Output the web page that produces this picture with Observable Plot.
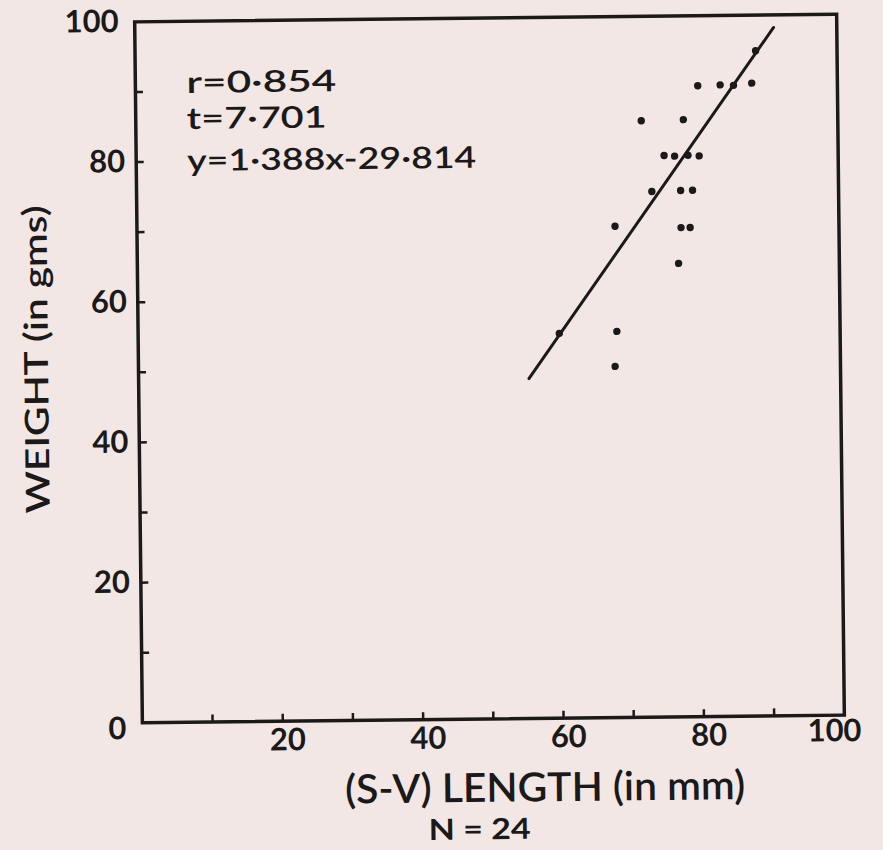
<!DOCTYPE html>
<html>
<head>
<meta charset="utf-8">
<script src="https://cdn.jsdelivr.net/npm/d3@7"></script>
<script src="https://cdn.jsdelivr.net/npm/@observablehq/plot@0.6"></script>
<style>
  html, body { margin: 0; padding: 0; background: #f2e7e4; }
  #chart svg { display: block; transform: rotate(-0.63deg); transform-origin: 489px 368px; }
</style>
</head>
<body>
<div id="chart"></div>
<script>
// S-V length (mm) and weight (g)
const lengthMm = [88.4, 80.1, 83.3, 85.2, 87.8, 72.0, 78.0, 75.2, 76.7, 78.6, 80.2,
                  73.4, 77.5, 79.2, 68.1, 77.5, 78.8, 77.1, 68.2, 67.9, 60.0];
const weightG  = [94.9, 90.0, 90.1, 90.0, 90.3, 85.1, 85.2, 80.1, 80.0, 80.1, 80.0,
                  75.0, 75.1, 75.1, 70.1, 69.8, 69.8, 64.7, 55.1, 50.1, 54.9];
// regression line endpoints as drawn
const fitX = [55.6, 91.0];
const fitY = [48.5, 98.2];
// axis ticks / labels
const minorTicks = [10, 20, 30, 40, 50, 60, 70, 80, 90];
const yLabels = [0, 20, 40, 60, 80, 100];
const xLabels = [20, 40, 60, 80, 100];
const statLines = ["r=0·854", "t=7·701", "y=1·388x-29·814"];
const xTitle = "(S-V) LENGTH (in mm)";
const yTitle = "WEIGHT (in gms)";
const nNote = "N = 24";

const ink = "#1b1919";
const points = lengthMm.map((x, i) => ({x, y: weightG[i]}));
const fit = fitX.map((x, i) => ({x, y: fitY[i]}));
const font = "Lato, 'Open Sans', sans-serif";
const statOffsets = [62, 98, 140];
const tickFont = {fontSize: 31, fontWeight: "bold", fill: ink, tickSize: 0, label: null};

const chart = Plot.plot({
  width: 883,
  height: 850,
  marginLeft: 138,
  marginRight: 43,
  marginTop: 17.5,
  marginBottom: 131.5,
  x: {domain: [0, 100]},
  y: {domain: [0, 100]},
  style: {background: "transparent", fontFamily: font, color: ink},
  marks: [
    Plot.frame({stroke: ink, strokeWidth: 3.5}),
    Plot.tickY(minorTicks, {y: d => d, stroke: ink, strokeWidth: 2.5, insetRight: 694}),
    Plot.tickX(minorTicks, {x: d => d, stroke: ink, strokeWidth: 2.5, insetTop: 694}),
    Plot.axisY({...tickFont, ticks: [yLabels[0]], tickPadding: 12, dx: -4, dy: 6}),
    Plot.axisY({...tickFont, ticks: yLabels.slice(1, -1), tickPadding: 11}),
    Plot.axisY({...tickFont, ticks: yLabels.slice(-1), tickPadding: 16}),
    Plot.axisX({...tickFont, ticks: xLabels.slice(0, -1), tickPadding: 7, dx: 5}),
    Plot.axisX({...tickFont, ticks: xLabels.slice(-1), tickPadding: 4, dx: -10}),
    Plot.line(fit, {x: "x", y: "y", stroke: ink, strokeWidth: 3}),
    Plot.dot(points, {x: "x", y: "y", r: 3.7, fill: ink, stroke: "none"}),
    ...statLines.map((s, i) => Plot.text([s], {
      text: d => d, frameAnchor: "top-left", textAnchor: "start", lineAnchor: "middle",
      dx: 51, dy: statOffsets[i], fontSize: 30, fontWeight: 600, fill: ink
    })),
    Plot.text([yTitle], {text: d => d, frameAnchor: "left", rotate: -90, textAnchor: "middle", lineAnchor: "middle", dx: -101, dy: -14, fontSize: 33, fontWeight: 600, fill: ink}),
    Plot.text([xTitle], {text: d => d, frameAnchor: "bottom", textAnchor: "middle", lineAnchor: "middle", dx: 51, dy: 70, fontSize: 40, fontWeight: 600, fill: ink}),
    Plot.text([nNote], {text: d => d, frameAnchor: "bottom", textAnchor: "middle", lineAnchor: "middle", dx: -15, dy: 111, fontSize: 29, fontWeight: "bold", fill: ink})
  ]
});

// match hand-lettered text widths
const widths = new Map([
  [statLines[0], 150], [statLines[1], 140], [statLines[2], 289],
  [xTitle, 400], [yTitle, 308], [nNote, 102]
]);
d3.select(chart).selectAll("text").each(function () {
  const w = widths.get(this.textContent);
  if (w) d3.select(this).attr("textLength", w).attr("lengthAdjust", "spacingAndGlyphs");
});
document.getElementById("chart").appendChild(chart);
</script>
</body>
</html>
